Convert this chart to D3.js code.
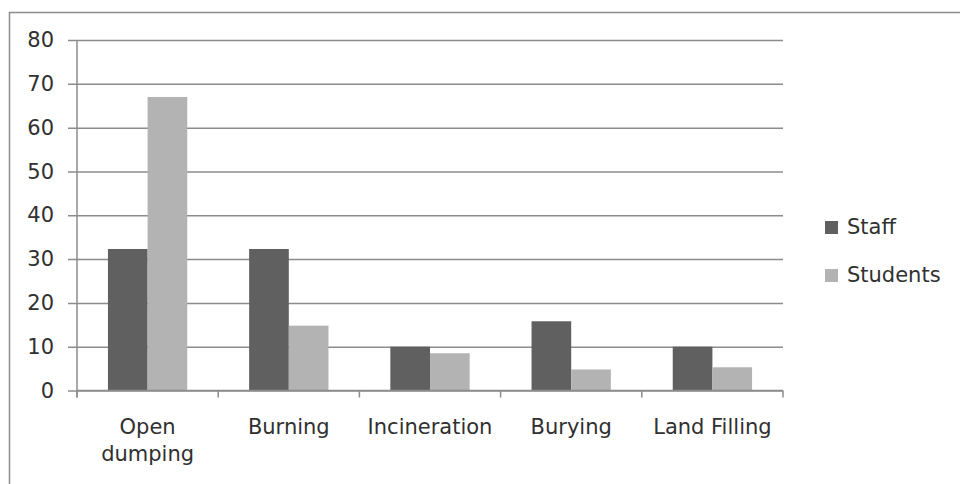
<!DOCTYPE html>
<html>
<head>
<meta charset="utf-8">
<script src="https://cdn.jsdelivr.net/npm/d3@7"></script>
<style>
  html, body { margin: 0; padding: 0; background: #fff; }
  svg { display: block; }
  text { font-family: "DejaVu Sans", sans-serif; fill: #303030; }
</style>
</head>
<body>
<svg id="chart" width="960" height="484"></svg>
<script>
// Waste disposal methods reported by staff and students
const categories = ["Open dumping", "Burning", "Incineration", "Burying", "Land Filling"];
const seriesNames = ["Staff", "Students"];
const staffValues = [32.3, 32.3, 10.0, 15.8, 10.0];
const studentValues = [67.0, 14.8, 8.5, 4.8, 5.3];
const yTicks = [0, 10, 20, 30, 40, 50, 60, 70, 80];
const seriesColors = ["#606060", "#b3b3b3"];

const rows = categories.map((c, i) => ({
  category: c,
  values: [staffValues[i], studentValues[i]]
}));

const svg = d3.select("#chart");
const plot = { left: 77, right: 783, top: 40, bottom: 390.5 };
const fontSize = 21;

// Outer frame (open to the right and bottom)
svg.append("path")
  .attr("d", "M9.5,484 L9.5,12.5 L960,12.5")
  .attr("fill", "none")
  .attr("stroke", "#8c8c8c")
  .attr("stroke-width", 1.5);

const x0 = d3.scaleBand().domain(categories).range([plot.left, plot.right]).paddingInner(0).paddingOuter(0);
const x1 = d3.scaleBand().domain(seriesNames).range([0, x0.bandwidth()]).paddingInner(0).paddingOuter(0.78);
const y = d3.scaleLinear().domain([0, 80]).range([plot.bottom, plot.top]);

// Horizontal gridlines with outside ticks on the value axis
const yAxis = d3.axisLeft(y).tickValues(yTicks).tickSize(-(plot.right - plot.left)).tickFormat(d3.format("d"));
const gy = svg.append("g").attr("transform", `translate(${plot.left},0)`).call(yAxis);
gy.select(".domain").remove();
gy.selectAll(".tick line")
  .attr("x1", -9)
  .attr("stroke", "#8c8c8c")
  .attr("stroke-width", 1.5);
gy.selectAll(".tick text")
  .attr("x", -23)
  .attr("font-size", fontSize)
  .attr("font-family", "DejaVu Sans, sans-serif")
  .attr("fill", "#303030");

// Value axis line
svg.append("line")
  .attr("x1", plot.left).attr("x2", plot.left)
  .attr("y1", plot.top).attr("y2", plot.bottom + 7)
  .attr("stroke", "#8c8c8c").attr("stroke-width", 1.5);

// Bars
const groups = svg.append("g").selectAll("g")
  .data(rows)
  .join("g")
  .attr("transform", d => `translate(${x0(d.category)},0)`);

groups.selectAll("rect")
  .data(d => d.values.map((v, i) => ({ name: seriesNames[i], value: v, color: seriesColors[i] })))
  .join("rect")
  .attr("x", d => x1(d.name))
  .attr("width", x1.bandwidth())
  .attr("y", d => y(d.value))
  .attr("height", d => y(0) - y(d.value))
  .attr("fill", d => d.color);

// Category axis with boundary ticks
svg.append("line")
  .attr("x1", plot.left).attr("x2", plot.right)
  .attr("y1", plot.bottom).attr("y2", plot.bottom)
  .attr("stroke", "#8c8c8c").attr("stroke-width", 1.5);

const boundaries = categories.map(c => x0(c)).concat([x0(categories[categories.length - 1]) + x0.bandwidth()]);
svg.append("g").selectAll("line")
  .data(boundaries)
  .join("line")
  .attr("x1", d => d).attr("x2", d => d)
  .attr("y1", plot.bottom).attr("y2", plot.bottom + 7)
  .attr("stroke", "#8c8c8c").attr("stroke-width", 1.5);

// Category labels, wrapped where they don't fit
const wrap = { "Open dumping": ["Open", "dumping"] };
svg.append("g").selectAll("text")
  .data(categories)
  .join("text")
  .attr("text-anchor", "middle")
  .attr("font-size", fontSize)
  .attr("x", d => x0(d) + x0.bandwidth() / 2)
  .attr("y", 434)
  .each(function (d) {
    const lines = wrap[d] || [d];
    const t = d3.select(this);
    lines.forEach((ln, i) => {
      t.append("tspan")
        .attr("x", x0(d) + x0.bandwidth() / 2)
        .attr("dy", i === 0 ? 0 : 27)
        .text(ln);
    });
  });

// Legend
const legend = svg.append("g").selectAll("g")
  .data(seriesNames)
  .join("g")
  .attr("transform", (d, i) => `translate(825,${221 + i * 48})`);
legend.append("rect")
  .attr("width", 13).attr("height", 13)
  .attr("fill", (d, i) => seriesColors[i]);
legend.append("text")
  .attr("x", 22).attr("y", 12.5)
  .attr("font-size", fontSize)
  .text(d => d);
</script>
</body>
</html>
